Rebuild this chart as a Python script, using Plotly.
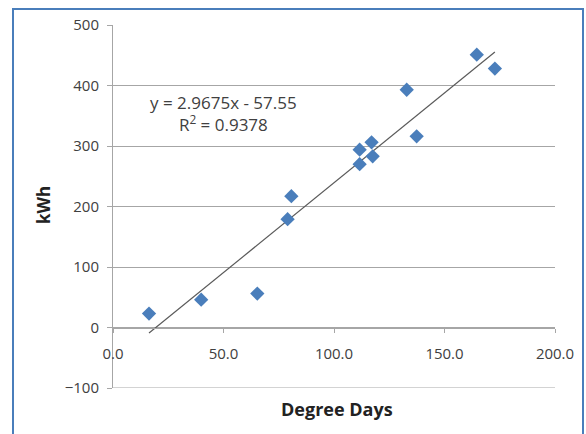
import plotly.graph_objects as go

# Data
degree_days = [16.3, 39.9, 65.3, 79.0, 80.7, 111.6, 111.6, 117.0, 117.5, 132.9, 137.4, 164.6, 172.8]
kwh = [23, 46, 56, 179, 217, 270, 294, 306, 283, 393, 316, 451, 428]

slope = 2.9675
intercept = -57.55
r_squared = 0.9378

x_ticks = [0, 50, 100, 150, 200]
y_ticks = [-100, 0, 100, 200, 300, 400, 500]

FONT = "'Open Sans', 'Liberation Sans', sans-serif"
GRID = "#a6a6a6"
TXT = "#404040"

W, H = 586, 434
L, R, T, B = 113, 31, 25, 46
PW, PH = W - L - R, H - T - B


def px(xp):
    return (xp - L) / PW


def py(yp):
    return (H - B - yp) / PH


x_min, x_max = min(degree_days), max(degree_days)
trend_x = [x_min, x_max]
trend_y = [slope * v + intercept for v in trend_x]

fig = go.Figure()
fig.add_trace(go.Scatter(
    x=trend_x, y=trend_y, mode="lines",
    line=dict(color="#5a5a5a", width=1.2),
    showlegend=False, hoverinfo="skip",
))
fig.add_trace(go.Scatter(
    x=degree_days, y=kwh, mode="markers",
    marker=dict(symbol="diamond", size=11, color="#4a7ebb"),
    showlegend=False,
))

fig.update_layout(
    width=W, height=H,
    margin=dict(l=L, r=R, t=T, b=B, pad=0),
    paper_bgcolor="white", plot_bgcolor="white",
    font=dict(family=FONT, size=15, color=TXT),
    xaxis=dict(
        range=[x_ticks[0], x_ticks[-1]], tickvals=x_ticks, tickformat=".1f",
        anchor="free", position=1/6,
        showgrid=False, zeroline=False,
        showline=True, linecolor=GRID, linewidth=1,
        ticks="outside", ticklen=4, tickcolor=GRID,
        ticklabelstandoff=8,
        tickfont=dict(size=15, color=TXT),
    ),
    yaxis=dict(
        range=[y_ticks[0], y_ticks[-1]], tickvals=y_ticks, domain=[0, 1],
        showgrid=True, gridcolor=GRID, gridwidth=1,
        zeroline=False,
        showline=True, linecolor=GRID, linewidth=1,
        ticks="outside", ticklen=5, tickcolor=GRID,
        ticklabelstandoff=5,
        tickfont=dict(size=15, color=TXT),
    ),
)

# bottom gridline (at the lowest y tick) which plotly omits at the range edge
fig.add_shape(type="line", xref="x", yref="y",
              x0=x_ticks[0], x1=x_ticks[-1], y0=y_ticks[0], y1=y_ticks[0],
              line=dict(color=GRID, width=1))

# Axis titles
fig.add_annotation(text="<b>Degree Days</b>", xref="paper", yref="paper",
                   x=px(337), y=py(409), xanchor="center", yanchor="middle",
                   showarrow=False, font=dict(size=18, color="#222222"))
fig.add_annotation(text="<b>kWh</b>", xref="paper", yref="paper",
                   x=px(43), y=py(205), xanchor="center", yanchor="middle",
                   textangle=-90, showarrow=False,
                   font=dict(size=17, color="#222222"))

# Trendline equation
fig.add_annotation(text=f"y = {slope}x - {abs(intercept)}<br>R<sup>2</sup> = {r_squared}",
                   x=50, y=354, xref="x", yref="y", showarrow=False,
                   xanchor="center", yanchor="middle",
                   align="center", font=dict(size=17, color=TXT))

# Outer chart border
fig.add_shape(type="rect", xref="paper", yref="paper",
              x0=px(13), x1=px(583), y0=py(460), y1=py(9),
              line=dict(color="#4a7ebb", width=2), fillcolor="rgba(0,0,0,0)", layer="below")

fig.write_html("out.html",
               config={"displayModeBar": False},
               post_script="document.body.style.margin='0';document.body.style.overflow='hidden';")
